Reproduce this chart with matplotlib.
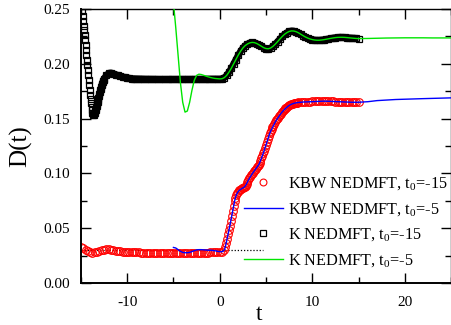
import numpy as np
import matplotlib
matplotlib.use("Agg")
import matplotlib.pyplot as plt
from matplotlib.ticker import MultipleLocator

plt.rcParams['font.family'] = ['Liberation Serif', 'DejaVu Serif']
plt.rcParams['mathtext.fontset'] = 'custom'
plt.rcParams['mathtext.rm'] = 'Liberation Serif'
plt.rcParams['mathtext.it'] = 'Liberation Serif'
plt.rcParams['axes.unicode_minus'] = False

# ---------------- data ----------------
# KBW NEDMFT, t0=-15 (red circles)
red_t1 = np.round(np.arange(-15.0, 0.26, 0.25), 3)
red_v1 = [0.0330, 0.0320, 0.0305, 0.0290, 0.0280, 0.0278, 0.0280, 0.0287, 0.0295, 0.0300,
          0.0305, 0.0307, 0.0307, 0.0305, 0.0300, 0.0297, 0.0293, 0.0290, 0.0287, 0.0285,
          0.0283, 0.0282, 0.0280, 0.0280, 0.0279, 0.0279, 0.0278, 0.0278, 0.0278, 0.0278,
          0.0278, 0.0278, 0.0278, 0.0278, 0.0278, 0.0278, 0.0278, 0.0278, 0.0278, 0.0278,
          0.0278, 0.0278, 0.0278, 0.0278, 0.0278, 0.0278, 0.0278, 0.0278, 0.0278, 0.0278,
          0.0278, 0.0278, 0.0278, 0.0278, 0.0278, 0.0278, 0.0279, 0.0279, 0.0279, 0.0280,
          0.0281, 0.0285]
red_t2 = np.round(np.arange(0.5, 8.45, 0.1), 3)
red_v2 = [0.0300, 0.0330, 0.0365, 0.0405, 0.0445, 0.0485, 0.0525, 0.0570, 0.0615, 0.0660,
          0.0705, 0.0745, 0.0780, 0.0805, 0.0822, 0.0835, 0.0845, 0.0852, 0.0858, 0.0863,
          0.0868, 0.0873, 0.0880, 0.0890, 0.0905, 0.0922, 0.0940, 0.0955, 0.0968, 0.0982,
          0.0995, 0.1008, 0.1020, 0.1032, 0.1043, 0.1055, 0.1066, 0.1078, 0.1095, 0.1115,
          0.1137, 0.1160, 0.1183, 0.1208, 0.1235, 0.1263, 0.1290, 0.1315, 0.1340, 0.1365,
          0.1385, 0.1403, 0.1420, 0.1437, 0.1454, 0.1470, 0.1484, 0.1497, 0.1510, 0.1522,
          0.1534, 0.1546, 0.1557, 0.1567, 0.1576, 0.1585, 0.1593, 0.1601, 0.1608, 0.1615,
          0.1621, 0.1626, 0.1630, 0.1634, 0.1637, 0.1640, 0.1642, 0.1644, 0.1646, 0.1647]
red_t3 = np.round(np.arange(8.5, 15.01, 0.25), 3)
red_v3 = [0.1648, 0.1650, 0.1652, 0.1653, 0.1655, 0.1656, 0.1657, 0.1658, 0.1659, 0.1660,
          0.1660, 0.1660, 0.1660, 0.1659, 0.1658, 0.1657, 0.1656, 0.1655, 0.1654, 0.1653,
          0.1652, 0.1651, 0.1650, 0.1650, 0.1650, 0.1650, 0.1650]

# KBW NEDMFT, t0=-5 (blue line): own start, then on top of the red circles, then its tail
blue_t_start = np.round(np.arange(-5.0, 0.26, 0.25), 3)
blue_v_start = [0.0325, 0.0320, 0.0305, 0.0290, 0.0280, 0.0277, 0.0277, 0.0280, 0.0288, 0.0297,
                0.0303, 0.0305, 0.0305, 0.0303, 0.0300, 0.0300, 0.0300, 0.0298, 0.0295, 0.0290,
                0.0287, 0.0286]
blue_t_tail = [16, 17, 18, 19, 20, 21, 22, 23, 24, 25]
blue_v_tail = [0.1655, 0.1665, 0.1670, 0.1675, 0.1678, 0.1680, 0.1683, 0.1685, 0.1688, 0.1690]

# K NEDMFT, t0=-15 (black squares)
black_t1 = np.round(np.arange(-15.0, -12.49, 0.05), 3)
black_v1 = [0.2620, 0.2570, 0.2525, 0.2480, 0.2440, 0.2395, 0.2350, 0.2305, 0.2260, 0.2215,
            0.2170, 0.2125, 0.2080, 0.2035, 0.1990, 0.1945, 0.1900, 0.1855, 0.1810, 0.1765,
            0.1720, 0.1680, 0.1640, 0.1605, 0.1575, 0.1553, 0.1540, 0.1535, 0.1537, 0.1543,
            0.1553, 0.1566, 0.1581, 0.1597, 0.1614, 0.1632, 0.1650, 0.1668, 0.1686, 0.1704,
            0.1722, 0.1740, 0.1758, 0.1775, 0.1791, 0.1806, 0.1820, 0.1833, 0.1845, 0.1856,
            0.1866]
black_t2 = np.round(np.arange(-12.25, 15.01, 0.25), 3)
black_v2 = [0.1895, 0.1915, 0.1918, 0.1912, 0.1903, 0.1895, 0.1888, 0.1882, 0.1877, 0.1873,
            0.1869, 0.1866, 0.1865, 0.1864, 0.1863, 0.1862, 0.1862, 0.1861, 0.1861, 0.1860,
            0.1860, 0.1860, 0.1859, 0.1859, 0.1859, 0.1859, 0.1858, 0.1858, 0.1858, 0.1858,
            0.1858, 0.1858, 0.1858, 0.1858, 0.1858, 0.1858, 0.1859, 0.1859, 0.1859, 0.1859,
            0.1860, 0.1860, 0.1860, 0.1861, 0.1861, 0.1862, 0.1862, 0.1862, 0.1862,
            0.1862, 0.1865, 0.1875, 0.1895, 0.1925, 0.1960, 0.2000, 0.2040, 0.2080, 0.2115,
            0.2145, 0.2167, 0.2182, 0.2192, 0.2196, 0.2194, 0.2186, 0.2174, 0.2161, 0.2148,
            0.2140, 0.2138, 0.2145, 0.2160, 0.2180, 0.2203, 0.2227, 0.2250, 0.2270, 0.2285,
            0.2296, 0.2301, 0.2300, 0.2294, 0.2284, 0.2271, 0.2258, 0.2246, 0.2236, 0.2228,
            0.2222, 0.2218, 0.2216, 0.2216, 0.2218, 0.2221, 0.2225, 0.2229, 0.2233, 0.2237,
            0.2240, 0.2242, 0.2243, 0.2243, 0.2242, 0.2240, 0.2238, 0.2236, 0.2234, 0.2232,
            0.2231]

# K NEDMFT, t0=-5 (green line): own start, then on top of the black squares, then its tail
green_t_start = np.round(np.arange(-5.0, 0.01, 0.25), 3)
green_v_start = [0.2560, 0.2330, 0.2080, 0.1830, 0.1650, 0.1560, 0.1570, 0.1650, 0.1760, 0.1850,
                 0.1895, 0.1906, 0.1903, 0.1896, 0.1889, 0.1882, 0.1876, 0.1871, 0.1867, 0.1865,
                 0.1863]
green_t_tail = [16, 17, 18, 19, 20, 21, 22, 23, 24, 25]
green_v_tail = [0.2232, 0.2234, 0.2236, 0.2237, 0.2238, 0.2238, 0.2238, 0.2237, 0.2237, 0.2237]

# dotted reference level
dot_t = [-15.0, 4.7]
dot_v = [0.0305, 0.0305]

labels = ['KBW NEDMFT, t$_0$=-15', 'KBW NEDMFT, t$_0$=-5',
          'K NEDMFT, t$_0$=-15', 'K NEDMFT, t$_0$=-5']
xticks = [-10, 0, 10, 20]
yticks = [0.00, 0.05, 0.10, 0.15, 0.20, 0.25]

# ---------------- assemble ----------------
red_t = np.concatenate([red_t1, red_t2, red_t3])
red_v = np.concatenate([red_v1, red_v2, red_v3])
black_t = np.concatenate([black_t1, black_t2])
black_v = np.concatenate([black_v1, black_v2])
m_r = red_t >= 0.5
blue_t = np.concatenate([blue_t_start, red_t[m_r], blue_t_tail])
blue_v = np.concatenate([blue_v_start, red_v[m_r], blue_v_tail])
m_b = black_t >= 0.25
green_t = np.concatenate([green_t_start, black_t[m_b], green_t_tail])
green_v = np.concatenate([green_v_start, black_v[m_b], green_v_tail])

fig = plt.figure(figsize=(4.52, 3.25), dpi=100)
ax = fig.add_axes([0.179, 0.129, 0.819, 0.843])

ax.plot(dot_t, dot_v, color='black', linestyle=(0, (1, 1.5)), linewidth=0.9, zorder=1)
ax.plot(red_t, red_v, linestyle='none', marker='o', markersize=5.5, markerfacecolor='none',
        markeredgecolor='red', markeredgewidth=0.8, label=labels[0], zorder=2)
ax.plot(blue_t, blue_v, color='blue', linewidth=1.0, label=labels[1], zorder=3)
# densely packed squares merge into a solid band where the curve is slow
m_dense = black_t >= -13.75
ax.plot(black_t[m_dense], black_v[m_dense], color='black', linewidth=4.8,
        solid_capstyle='butt', solid_joinstyle='round', zorder=2)
ax.plot(black_t, black_v, linestyle='none', marker='s', markersize=4.4, markerfacecolor='none',
        markeredgecolor='black', markeredgewidth=0.9, label=labels[2], zorder=2)
ax.plot(green_t, green_v, color='#00e600', linewidth=1.0, label=labels[3], zorder=3)

ax.set_xlim(-15, 25)
ax.set_ylim(0.0, 0.25)
ax.set_xticks(xticks)
ax.set_xticklabels([str(v) for v in xticks])
ax.set_yticks(yticks)
ax.set_yticklabels(['%.2f' % v for v in yticks])
ax.xaxis.set_minor_locator(MultipleLocator(5))
ax.yaxis.set_minor_locator(MultipleLocator(0.025))
ax.tick_params(which='both', direction='in', top=True, right=True, labelsize=11, width=1.0)
ax.tick_params(which='major', length=7)
ax.tick_params(which='minor', length=4)
ax.tick_params(axis='x', pad=9)
ax.tick_params(axis='y', pad=8)
for s in ['left', 'bottom']:
    ax.spines[s].set_linewidth(1.4)
for s in ['top', 'right']:
    ax.spines[s].set_linewidth(1.0)

ax.set_xlabel('t', fontsize=17)
ax.xaxis.set_label_coords((259 - 81) / 370, -0.075)
ax.set_ylabel('D(t)', fontsize=18)
ax.yaxis.set_label_coords(-0.132, (283 - 146) / 274)

leg = ax.legend(loc='center left', bbox_to_anchor=((244 - 81) / 370, (283 - 222) / 274),
                frameon=False, fontsize=11.7, handlelength=2.4, handletextpad=0.3,
                labelspacing=0.55, borderaxespad=0.0, borderpad=0.0, markerscale=0.9)

fig.savefig('out.png', dpi=100)
